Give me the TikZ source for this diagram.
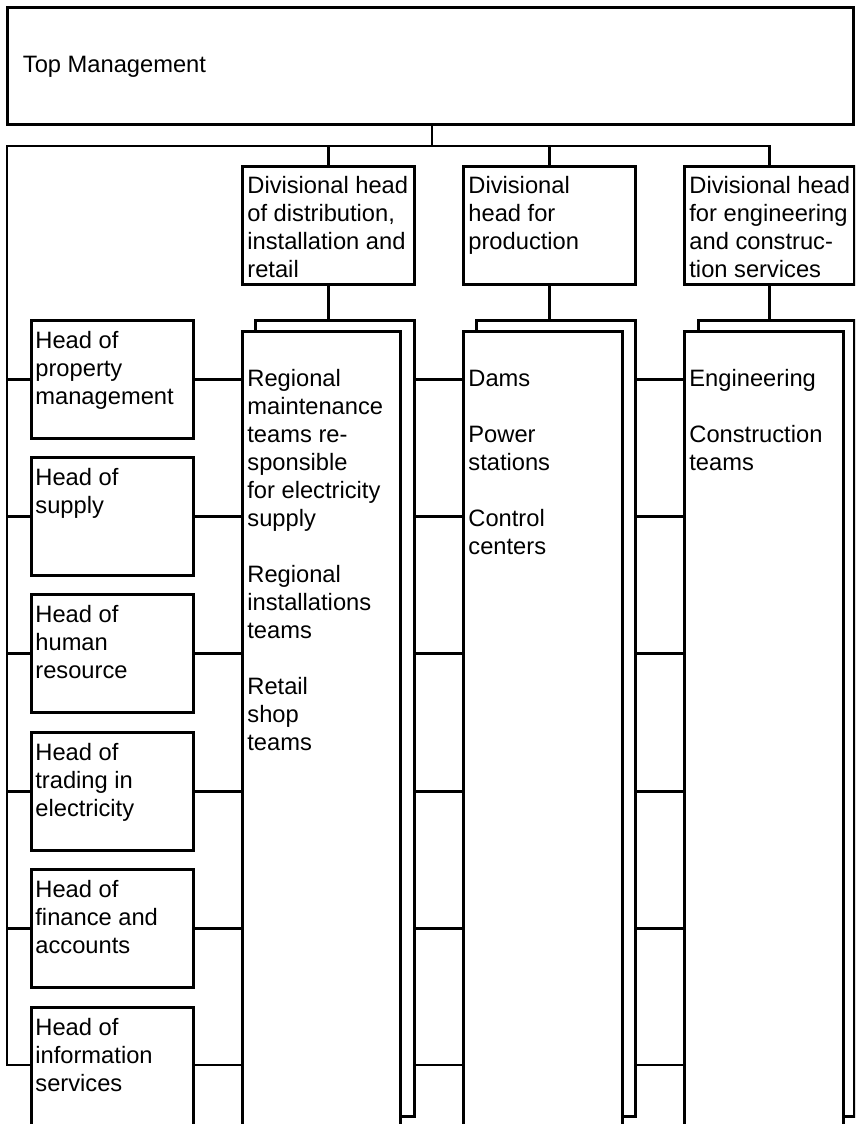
\documentclass[tikz,border=0pt]{standalone}
\usepackage{fontspec}
\setmainfont{Liberation Sans}
\usetikzlibrary{calc}
\newcommand\orgfont{\fontsize{23.7}{28}\selectfont}
\newcommand\orgtext[1]{\parbox[t]{300pt}{\raggedright #1}}
\begin{document}
\begin{tikzpicture}[x=1pt,y=-1pt,
  line width=2.8pt,
  box/.style={draw, line width=2.8pt, fill=white, inner sep=0pt, anchor=north west},
  txt/.style={inner sep=0pt, anchor=base west, font=\orgfont},
  wire/.style={line width=2.8pt}]
\useasboundingbox (0,0) rectangle (855,1124);
\clip (0,0) rectangle (855,1124);

% top level
\node[box, minimum width=846pt, minimum height=117pt] (top) at (6,6) {};
\node[txt] (topt) at ($(top.north west)+(15.5,66)$) {Top Management};

% divisional heads
\node[box, minimum width=172pt, minimum height=118pt] (d1) at (241,165) {};
\node[box, minimum width=172pt, minimum height=118pt] (d2) at (462,165) {};
\node[box, minimum width=170pt, minimum height=118pt] (d3) at (683,165) {};
\node[txt] (d1t) at ($(d1.north west)+(5,28)$) {\orgtext{Divisional head\\of distribution,\\installation and\\retail}};
\node[txt] (d2t) at ($(d2.north west)+(5,28)$) {\orgtext{Divisional\\head for\\production}};
\node[txt] (d3t) at ($(d3.north west)+(5,28)$) {\orgtext{Divisional head\\for engineering\\and construc-\\tion services}};

% stacked unit columns: back sheet, then front sheet
\node[box, minimum width=159pt, minimum height=796pt] (b1) at (254,319) {};
\node[box, minimum width=159pt, minimum height=796pt] (b2) at (475,319) {};
\node[box, minimum width=156pt, minimum height=796pt] (b3) at (697,319) {};
\node[box, minimum width=158pt, minimum height=830pt] (f1) at (241,330) {};
\node[box, minimum width=159pt, minimum height=830pt] (f2) at (462,330) {};
\node[box, minimum width=159pt, minimum height=830pt] (f3) at (683,330) {};
\node[txt] (f1t) at ($(f1.north west)+(5,56)$) {\orgtext{Regional\\maintenance\\teams re-\\sponsible\\for electricity\\supply\\[28pt]Regional\\installations\\teams\\[28pt]Retail\\shop\\teams}};
\node[txt] (f2t) at ($(f2.north west)+(5,56)$) {\orgtext{Dams\\[28pt]Power\\stations\\[28pt]Control\\centers}};
\node[txt] (f3t) at ($(f3.north west)+(5,56)$) {\orgtext{Engineering\\[28pt]Construction\\teams}};

% staff heads
\node[box, minimum width=162pt, minimum height=118pt] (h1) at (30,319) {};
\node[box, minimum width=162pt, minimum height=118pt] (h2) at (30,456) {};
\node[box, minimum width=162pt, minimum height=118pt] (h3) at (30,593) {};
\node[box, minimum width=162pt, minimum height=118pt] (h4) at (30,731) {};
\node[box, minimum width=162pt, minimum height=118pt] (h5) at (30,868) {};
\node[box, minimum width=162pt, minimum height=130pt] (h6) at (30,1006) {};
\node[txt] (h1t) at ($(h1.north west)+(4,29)$) {\orgtext{Head of\\property\\management}};
\node[txt] (h2t) at ($(h2.north west)+(4,29)$) {\orgtext{Head of\\supply}};
\node[txt] (h3t) at ($(h3.north west)+(4,29)$) {\orgtext{Head of\\human\\resource}};
\node[txt] (h4t) at ($(h4.north west)+(4,29)$) {\orgtext{Head of\\trading in\\electricity}};
\node[txt] (h5t) at ($(h5.north west)+(4,29)$) {\orgtext{Head of\\finance and\\accounts}};
\node[txt] (h6t) at ($(h6.north west)+(4,29)$) {\orgtext{Head of\\information\\services}};

% connectors
\coordinate (busL) at (7,146);
\coordinate (topdrop) at (432,123);
\coordinate (rowL) at (7,1065);
\draw[wire] (rowL -| h6.west) -- (rowL) -- (busL) -- (busL -| d3.north) -- (d3.north);
\draw[wire] (topdrop) -- (topdrop |- busL);
\draw[wire] (d1.north) -- (d1.north |- busL);
\draw[wire] (d2.north) -- (d2.north |- busL);
\foreach \d/\b in {d1/b1, d2/b2, d3/b3}
  \draw[wire] (\d.south) -- (\d.south |- \b.north);
\foreach \h in {h1,h2,h3,h4,h5}{
  \draw[wire] (\h.west) -- (\h.west -| busL);
  \draw[wire] (\h.east) -- (\h.east -| f1.west);
  \draw[wire] (\h.east -| b1.east) -- (\h.east -| f2.west);
  \draw[wire] (\h.east -| b2.east) -- (\h.east -| f3.west);
}
\draw[wire] (rowL -| h6.east) -- (rowL -| f1.west);
\draw[wire] (rowL -| b1.east) -- (rowL -| f2.west);
\draw[wire] (rowL -| b2.east) -- (rowL -| f3.west);
\end{tikzpicture}
\end{document}
